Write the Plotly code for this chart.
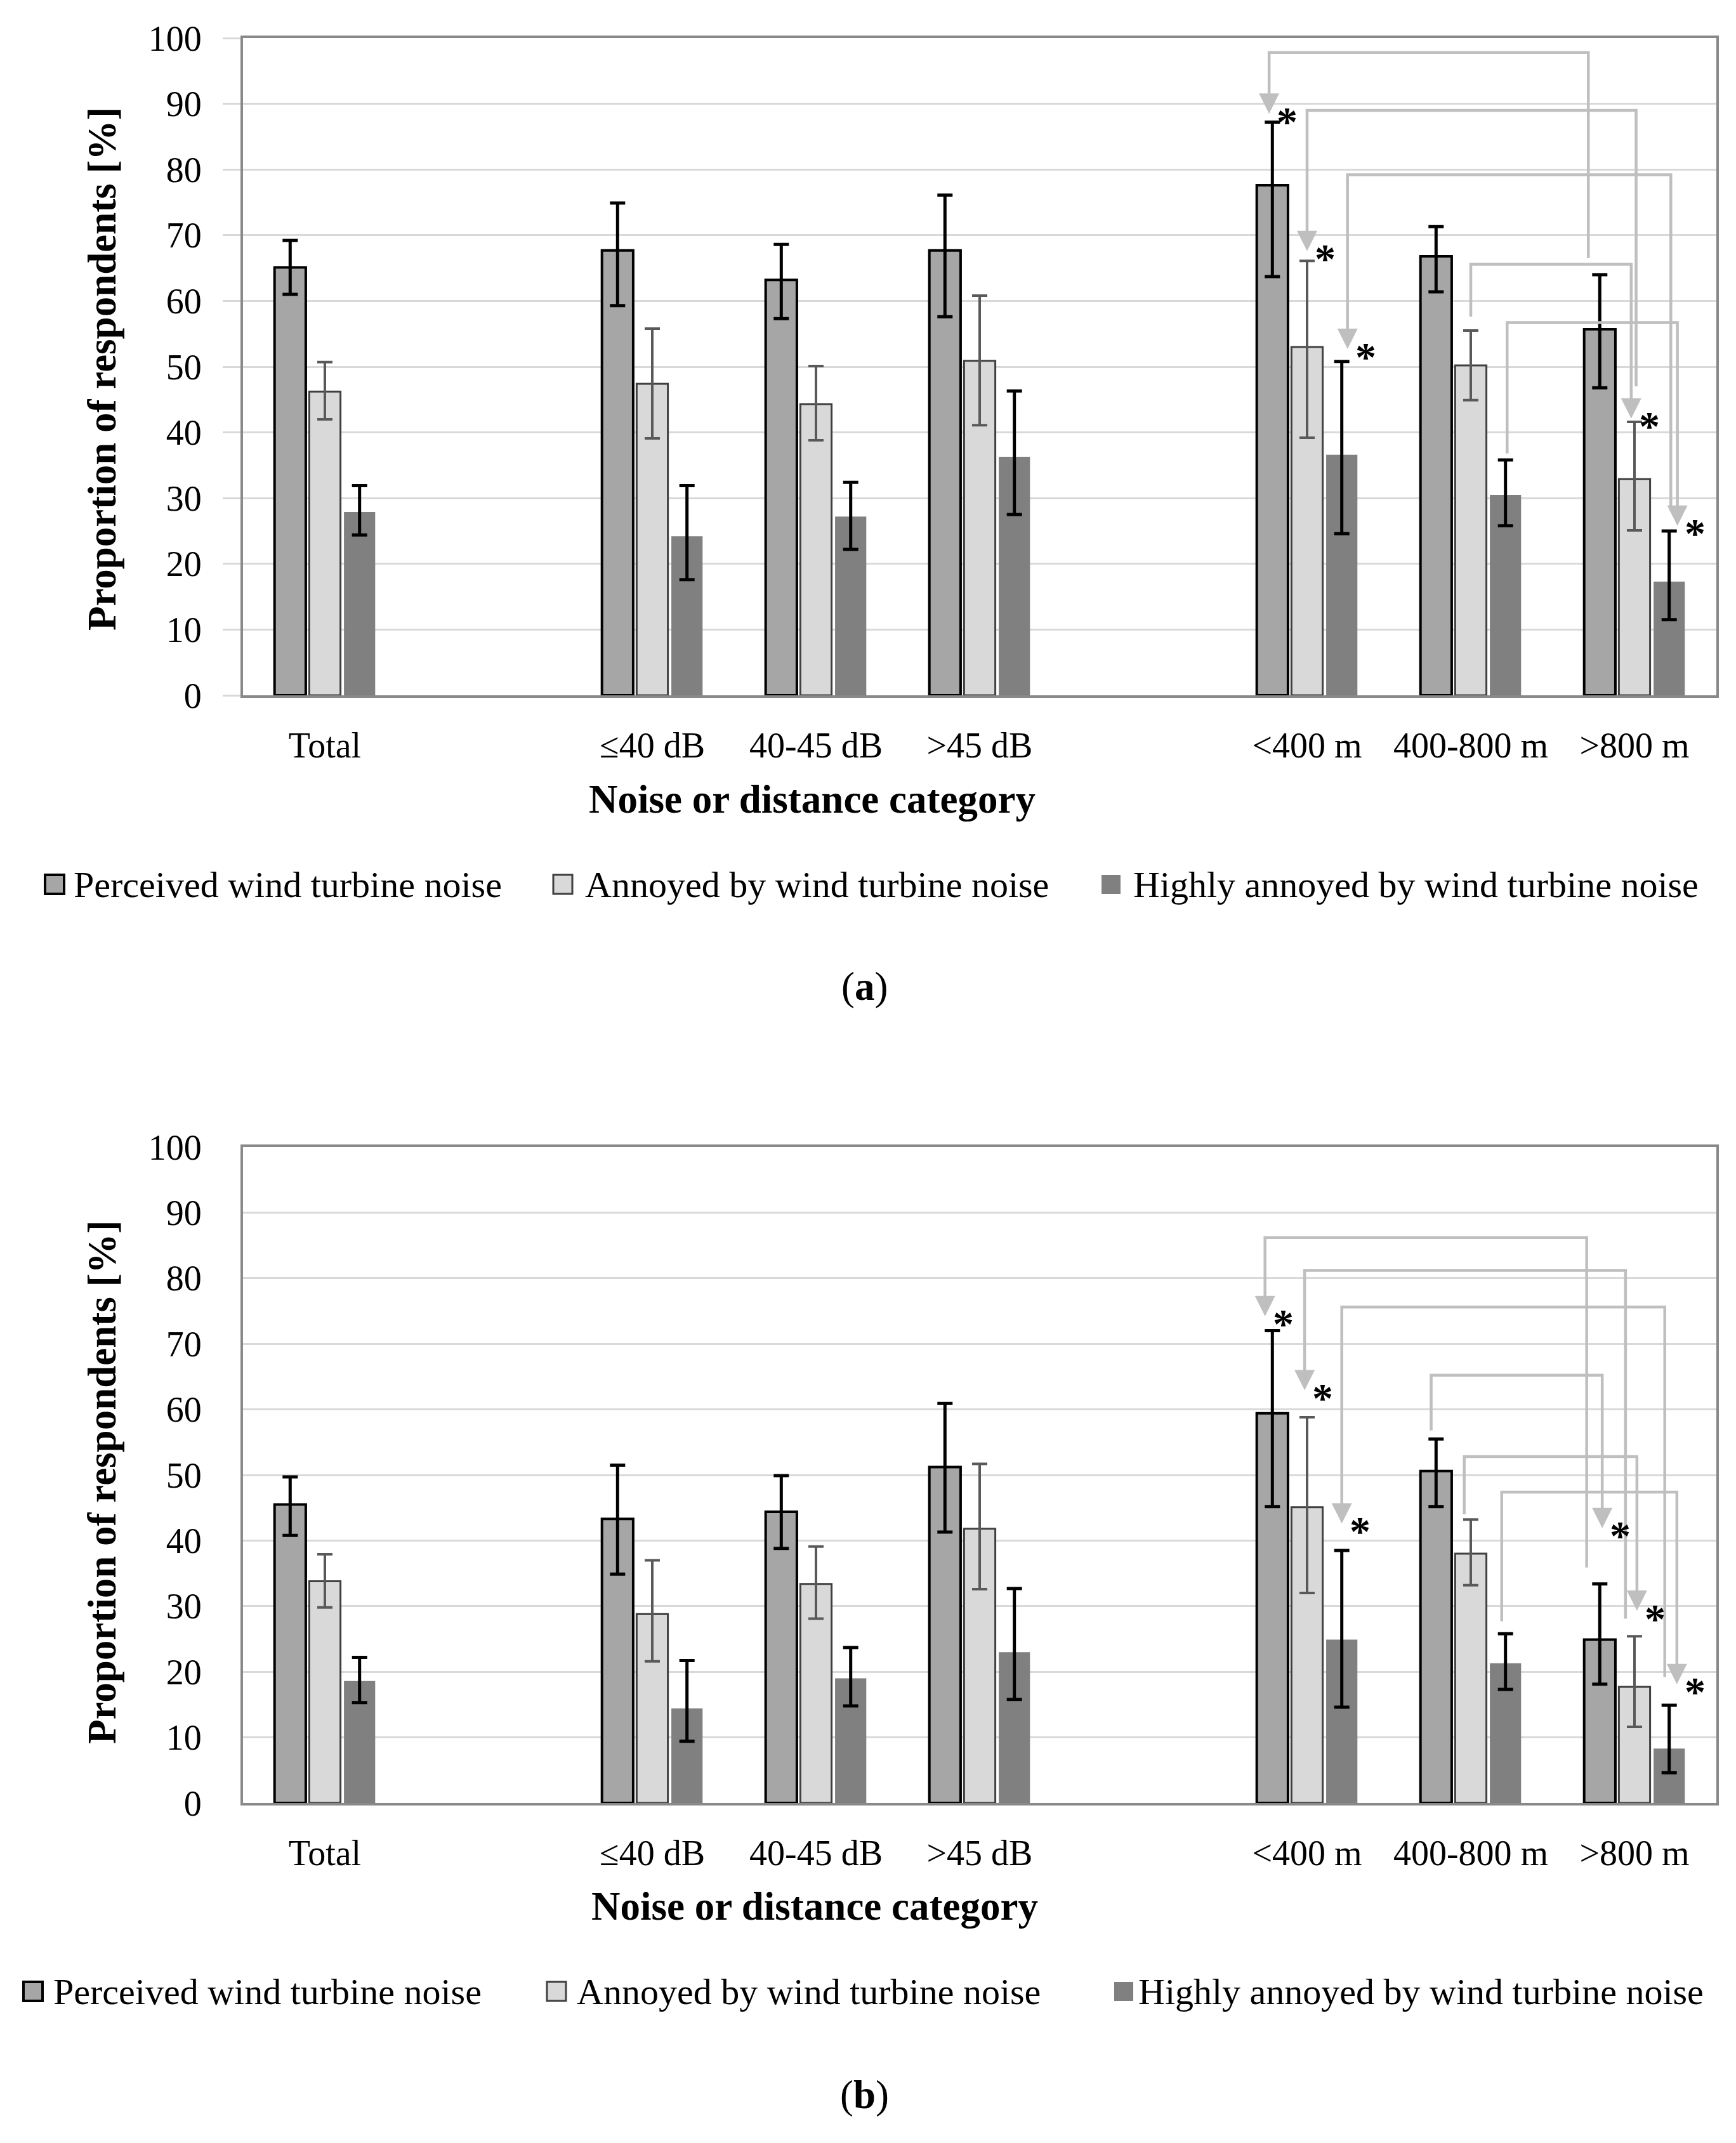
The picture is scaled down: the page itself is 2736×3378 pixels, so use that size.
import plotly.graph_objects as go

FONT = "Liberation Serif, Times New Roman, serif"

categories = ["Total", "", "≤40 dB", "40-45 dB", ">45 dB", "", "<400 m", "400-800 m", ">800 m"]
series_names = ["Perceived wind turbine noise", "Annoyed by wind turbine noise",
                "Highly annoyed by wind turbine noise"]

# panel (a)
perceived_a = [65.1, None, 67.7, 63.2, 67.7, None, 77.6, 66.8, 55.7]
perceived_a_lo = [61.0, None, 59.3, 57.3, 57.6, None, 63.7, 61.4, 46.8]
perceived_a_hi = [69.2, None, 74.9, 68.6, 76.1, None, 87.2, 71.3, 64.0]
annoyed_a = [46.2, None, 47.4, 44.3, 50.9, None, 53.0, 50.2, 32.9]
annoyed_a_lo = [42.0, None, 39.1, 38.8, 41.1, None, 39.2, 44.9, 25.1]
annoyed_a_hi = [50.7, None, 55.8, 50.1, 60.8, None, 66.1, 55.5, 41.6]
highly_a = [27.9, None, 24.2, 27.2, 36.3, None, 36.6, 30.5, 17.3]
highly_a_lo = [24.4, None, 17.6, 22.2, 27.5, None, 24.6, 25.8, 11.5]
highly_a_hi = [31.9, None, 31.9, 32.4, 46.3, None, 50.8, 35.8, 25.0]

# panel (b)
perceived_b = [45.5, None, 43.3, 44.4, 51.2, None, 59.4, 50.6, 24.9]
perceived_b_lo = [40.8, None, 34.9, 38.8, 41.3, None, 45.2, 45.2, 18.1]
perceived_b_hi = [49.7, None, 51.5, 49.9, 60.9, None, 72.0, 55.5, 33.4]
annoyed_b = [33.8, None, 28.8, 33.4, 41.8, None, 45.1, 38.0, 17.7]
annoyed_b_lo = [29.8, None, 21.6, 28.1, 32.6, None, 32.0, 33.2, 11.6]
annoyed_b_hi = [37.9, None, 37.0, 39.1, 51.7, None, 58.8, 43.2, 25.4]
highly_b = [18.6, None, 14.4, 19.0, 23.0, None, 24.9, 21.3, 8.3]
highly_b_lo = [15.3, None, 9.4, 14.8, 15.8, None, 14.6, 17.3, 4.6]
highly_b_hi = [22.2, None, 21.7, 23.7, 32.7, None, 38.5, 25.8, 14.9]

# significance brackets: from category/series, start y, bracket level, to category/series, arrow tip y, x nudges
brackets_a = [
    (8, 0, 66.5, 97.8, 6, 0, 88.5, -0.07, -0.02),
    (8, 1, 47.0, 89.0, 6, 1, 67.6, 0.01, 0.0),
    (8, 2, 28.0, 79.2, 6, 2, 52.7, 0.01, 0.035),
    (7, 1, 57.6, 65.6, 8, 1, 42.1, 0.0, -0.02),
    (7, 2, 36.8, 56.7, 8, 2, 25.8, 0.01, 0.05),
]
brackets_b = [
    (8, 0, 35.9, 86.2, 6, 0, 74.2, -0.08, -0.045),
    (8, 1, 28.1, 81.2, 6, 1, 62.9, -0.055, -0.015),
    (8, 2, 19.2, 75.6, 6, 2, 42.6, -0.027, 0.0),
    (7, 0, 56.8, 65.2, 8, 0, 41.9, -0.03, 0.015),
    (7, 1, 44.0, 52.8, 8, 1, 29.3, -0.04, 0.015),
    (7, 2, 27.7, 47.4, 8, 2, 18.1, -0.023, 0.047),
]

# page body has an 8px margin, so the figure is drawn 8px lower/right
OFF = 8
W, H = 2736 - OFF, 3378 - OFF
BARGAP = 0.364
SLOT = (1 - BARGAP) / 3
ARROW = "#bfbfbf"
PX_PER_UNIT = 10.34
HEAD = 32

styles = [
    dict(fill="#a6a6a6", line="#000000", lw=4, err="#000000", et=5),
    dict(fill="#d9d9d9", line="#404040", lw=3, err="#595959", et=4),
    dict(fill="#808080", line="#808080", lw=0, err="#000000", et=5),
]


def px(x):
    return (x - OFF) / W


def py(y):
    return 1 - (y - OFF) / H


def add_panel(fig, data, brackets, xa, ya):
    x = list(range(len(categories)))
    for k, (vals, lo, hi) in enumerate(data):
        st = styles[k]
        up = [None if v is None else round(h - v, 2) for v, h in zip(vals, hi)]
        dn = [None if v is None else round(v - l, 2) for v, l in zip(vals, lo)]
        fig.add_trace(go.Bar(
            x=x, y=vals, name=series_names[k], xaxis=xa, yaxis=ya, showlegend=False,
            marker=dict(color=st["fill"], line=dict(color=st["line"], width=st["lw"])),
            error_y=dict(type="data", symmetric=False, array=up, arrayminus=dn,
                         color=st["err"], thickness=st["et"], width=12),
        ))
    shaft_end = (HEAD * 0.6) / PX_PER_UNIT
    for sc, ss, sy, level, dc, ds, tip, sdx, ddx in brackets:
        xs = sc + (ss - 1) * SLOT + sdx
        xd = dc + (ds - 1) * SLOT + ddx
        fig.add_trace(go.Scatter(
            x=[xs, xs, xd, xd], y=[sy, level, level, tip + shaft_end], mode="lines",
            line=dict(color=ARROW, width=4.5), xaxis=xa, yaxis=ya,
            showlegend=False, hoverinfo="skip",
        ))
        # arrow-down marker: its tip sits exactly on the data point
        fig.add_trace(go.Scatter(
            x=[xd], y=[tip], mode="markers",
            marker=dict(symbol="arrow-down", size=HEAD, color=ARROW, line=dict(width=0)),
            xaxis=xa, yaxis=ya, showlegend=False, hoverinfo="skip",
        ))
        fig.add_annotation(x=xd + 0.11, y=tip, xref=xa, yref=ya, text="<b>*</b>",
                           showarrow=False, font=dict(size=66, color="#000000"),
                           xanchor="center", yanchor="middle", yshift=-12)


fig = go.Figure()
add_panel(fig, [(perceived_a, perceived_a_lo, perceived_a_hi),
                (annoyed_a, annoyed_a_lo, annoyed_a_hi),
                (highly_a, highly_a_lo, highly_a_hi)], brackets_a, "x", "y")
add_panel(fig, [(perceived_b, perceived_b_lo, perceived_b_hi),
                (annoyed_b, annoyed_b_lo, annoyed_b_hi),
                (highly_b, highly_b_lo, highly_b_hi)], brackets_b, "x2", "y2")

xaxis_common = dict(
    range=[-0.5, len(categories) - 0.5], tickmode="array",
    tickvals=list(range(len(categories))), ticktext=categories,
    showgrid=False, zeroline=False, showline=True, mirror=True,
    linecolor="#898989", linewidth=4, ticks="", ticklabelstandoff=27,
    tickfont=dict(size=56, color="#000000"), domain=[px(383), px(2705)],
)
yaxis_common = dict(
    range=[0, 100], dtick=10, showgrid=True, gridcolor="#d9d9d9", gridwidth=3,
    zeroline=False, showline=True, mirror=True, linecolor="#898989", linewidth=4,
    ticks="outside", ticklen=28, tickwidth=3, ticklabelstandoff=22,
    tickfont=dict(size=56, color="#000000"),
)

fig.update_layout(
    width=W, height=H,
    margin=dict(l=0, r=0, t=0, b=0, autoexpand=False),
    paper_bgcolor="#ffffff", plot_bgcolor="#ffffff",
    font=dict(family=FONT, color="#000000"),
    barmode="group", bargap=BARGAP, bargroupgap=0.1,
    xaxis=dict(xaxis_common, anchor="y"),
    yaxis=dict(yaxis_common, anchor="x", domain=[py(1096), py(60)], tickcolor="#d9d9d9"),
    xaxis2=dict(xaxis_common, anchor="y2"),
    yaxis2=dict(yaxis_common, anchor="x2", domain=[py(2842), py(1808)],
                tickcolor="rgba(0,0,0,0)"),
    showlegend=False,
    hovermode=False,
)

# legend rows (symbol left edge, text left edge) and y centre, per panel
legend_rows = [
    ((71, 872, 1736), (114, 920, 1784), 1394),
    ((37, 862, 1756), (82, 907, 1792), 3139),
]
for sym_x, txt_x, yc in legend_rows:
    for k, name in enumerate(series_names):
        st = styles[k]
        fig.add_shape(type="rect", xref="paper", yref="paper",
                      x0=px(sym_x[k]), x1=px(sym_x[k] + 30), y0=py(yc + 15), y1=py(yc - 15),
                      fillcolor=st["fill"],
                      line=dict(color=st["line"], width=st["lw"] if st["lw"] else 0))
        fig.add_annotation(x=px(txt_x[k]), y=py(yc), xref="paper", yref="paper",
                           text=name, showarrow=False, xanchor="left", yanchor="middle",
                           font=dict(size=58))

# axis titles and panel captions
for ytitle_y, xtitle_xy, cap_y, cap in [(582, (1280, 1260), 1555, "a"),
                                         (2337, (1284, 3005), 3302, "b")]:
    fig.add_annotation(x=px(161), y=py(ytitle_y), xref="paper", yref="paper",
                       text="<b>Proportion of respondents [%]</b>", textangle=-90,
                       showarrow=False, xanchor="center", yanchor="middle",
                       font=dict(size=63))
    fig.add_annotation(x=px(xtitle_xy[0]), y=py(xtitle_xy[1]), xref="paper", yref="paper",
                       text="<b>Noise or distance category</b>", showarrow=False,
                       xanchor="center", yanchor="middle", font=dict(size=63))
    fig.add_annotation(x=px(1362), y=py(cap_y), xref="paper", yref="paper",
                       text=f"(<b>{cap}</b>)", showarrow=False,
                       xanchor="center", yanchor="middle", font=dict(size=63))

fig.write_html("out.html")
